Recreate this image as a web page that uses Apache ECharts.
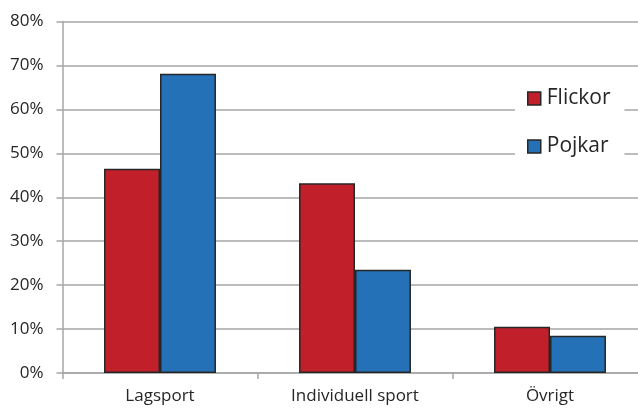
<!DOCTYPE html>
<html>
<head>
<meta charset="utf-8">
<script src="https://cdn.jsdelivr.net/npm/echarts@6/dist/echarts.min.js"></script>
<style>html,body{margin:0;padding:0;background:#fff}#c{width:638px;height:408px}</style>
</head>
<body>
<div id="c"></div>
<script>
var categories = ['Lagsport', 'Individuell sport', 'Övrigt'];
var flickor = [46.5, 43.2, 10.5];
var pojkar = [68.1, 23.5, 8.5];
var seriesNames = ['Flickor', 'Pojkar'];

var chart = echarts.init(document.getElementById('c'), null, {renderer: 'canvas'});
var font = '"Open Sans", sans-serif';
chart.setOption({
  animation: false,
  backgroundColor: '#fff',
  textStyle: {fontFamily: font},
  grid: {left: 62.5, top: 21.5, width: 585, height: 351.5, containLabel: false, outerBoundsMode: 'none'},
  legend: {
    orient: 'vertical',
    left: 515,
    top: 78,
    icon: 'rect',
    itemWidth: 13,
    itemHeight: 13,
    itemGap: 27,
    padding: [10, 14, 10, 12],
    backgroundColor: '#fff',
    itemStyle: {borderColor: '#262626', borderWidth: 1.5},
    textStyle: {fontSize: 21, color: '#262626', fontFamily: font, padding: [0, 0, 0, 1]},
    data: seriesNames
  },
  xAxis: {
    type: 'category',
    data: categories,
    axisLine: {lineStyle: {color: '#a6a6a6', width: 1.5}},
    axisTick: {show: true, length: 6, lineStyle: {color: '#a6a6a6', width: 1.5}},
    axisLabel: {fontSize: 17, color: '#262626', margin: 15, fontFamily: font}
  },
  yAxis: {
    type: 'value',
    min: 0, max: 80, interval: 10,
    axisLine: {show: true, lineStyle: {color: '#a6a6a6', width: 1.5}},
    axisTick: {show: true, length: 6, lineStyle: {color: '#a6a6a6', width: 1.5}},
    splitLine: {lineStyle: {color: '#a6a6a6', width: 1.5}},
    axisLabel: {fontSize: 17, color: '#262626', margin: 19, formatter: '{value}%', fontFamily: font}
  },
  series: [
    {name: seriesNames[0], type: 'bar', data: flickor, barGap: '0%', barCategoryGap: '42.6%',
     itemStyle: {color: '#c1202a', borderColor: '#262626', borderWidth: 1.5}},
    {name: seriesNames[1], type: 'bar', data: pojkar, barGap: '0%', barCategoryGap: '42.6%',
     itemStyle: {color: '#2571b8', borderColor: '#262626', borderWidth: 1.5}}
  ]
});
</script>
</body>
</html>
